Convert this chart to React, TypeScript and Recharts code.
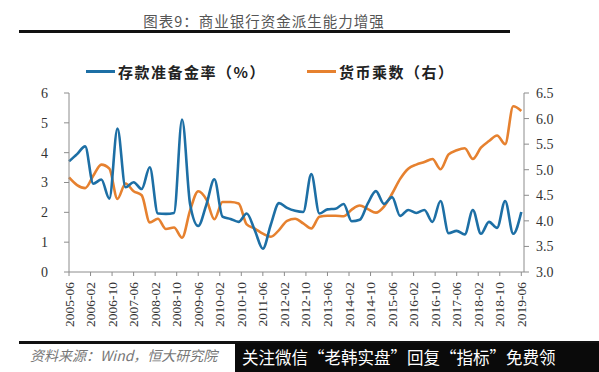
import React from 'react';
import { Line, LineChart, Legend, XAxis, YAxis } from 'recharts';

// months counted from 2005-06, one point per quarter
const months = [
  0, 3, 6, 9, 12, 15, 18, 21, 24, 27, 30, 33, 36, 39, 42, 45, 48, 51, 54, 57, 60, 63, 66, 69, 72, 75, 78, 81,
  84, 87, 90, 93, 96, 99, 102, 105, 108, 111, 114, 117, 120, 123, 126, 129, 132, 135, 138, 141, 144, 147, 150,
  153, 156, 159, 162, 165, 168,
];

const reserveRate = [
  3.71, 3.95, 4.21, 2.96, 3.1, 2.46, 4.81, 2.84, 3.01, 2.78, 3.51, 1.96, 1.95, 1.98, 5.11, 2.26, 1.54, 2.25,
  3.11, 1.86, 1.78, 1.68, 1.96, 1.4, 0.78, 1.6, 2.31, 2.15, 2.05, 2.01, 3.28, 1.96, 2.1, 2.12, 2.28, 1.7,
  1.75, 2.3, 2.71, 2.28, 2.51, 1.88, 2.08, 1.98, 2.08, 1.68, 2.38, 1.3, 1.38, 1.26, 2.08, 1.28, 1.68, 1.48,
  2.38, 1.28, 2.01,
];

const multiplier = [
  4.85, 4.7, 4.64, 4.88, 5.1, 5.02, 4.43, 4.73, 4.58, 4.5, 3.97, 4.04, 3.84, 3.87, 3.67, 4.21, 4.58, 4.42,
  4.03, 4.37, 4.37, 4.34, 3.93, 3.85, 3.75, 3.69, 3.82, 4.0, 4.04, 3.95, 3.85, 4.08, 4.1, 4.1, 4.09, 4.22,
  4.3, 4.23, 4.16, 4.28, 4.53, 4.82, 5.02, 5.1, 5.15, 5.21, 5.01, 5.3, 5.38, 5.42, 5.21, 5.43, 5.56, 5.67,
  5.5, 6.24, 6.15,
];

const xTicks = [0, 8, 16, 24, 32, 40, 48, 56, 64, 72, 80, 88, 96, 104, 112, 120, 128, 136, 144, 152, 160, 168];
const leftTicks = [0, 1, 2, 3, 4, 5, 6];
const rightTicks = [3, 3.5, 4, 4.5, 5, 5.5, 6, 6.5];

const data = months.map((m, i) => ({ m, rate: reserveRate[i], mult: multiplier[i] }));

const BLUE = '#1d6fa5';
const ORANGE = '#e6812f';
const AXIS = '#8c8c8c';
const serif = '"Liberation Serif", "DejaVu Serif", serif';
const cjk = '"Noto Sans CJK SC", sans-serif';

function monthLabel(m: number) {
  const total = 2005 * 12 + 5 + m;
  const y = Math.floor(total / 12);
  const mo = (total % 12) + 1;
  return `${y}-${String(mo).padStart(2, '0')}`;
}

function DateTick(props: any) {
  const { x, y, payload } = props;
  return (
    <text
      x={0}
      y={0}
      transform={`translate(${x + 4.5},${y + 4}) rotate(-90)`}
      textAnchor="end"
      fontSize={13.5}
      fontFamily={serif}
      fill="#333"
    >
      {monthLabel(payload.value)}
    </text>
  );
}

function LegendBox() {
  const item = (color: string, label: string, left: number) => (
    <div style={{ position: 'absolute', left, top: 0, display: 'flex', alignItems: 'center' }}>
      <span style={{ display: 'inline-block', width: 29, height: 3, background: color, marginRight: 3 }} />
      <span style={{ fontFamily: cjk, fontWeight: 700, fontSize: 15, color: '#222', letterSpacing: 1.5 }}>
        {label}
      </span>
    </div>
  );
  return (
    <div style={{ position: 'relative', width: 599, height: 20 }}>
      {item(BLUE, '存款准备金率（%）', 86)}
      {item(ORANGE, '货币乘数（右）', 307)}
    </div>
  );
}

export default function App() {
  return (
    <div style={{ position: 'absolute', left: 0, top: 0, width: 599, height: 372, background: '#fff', overflow: 'hidden' }}>
      <div
        style={{
          position: 'absolute',
          left: 0,
          width: 528,
          top: 12,
          textAlign: 'center',
          fontFamily: cjk,
          fontSize: 14.5,
          color: '#555',
          letterSpacing: 1,
          lineHeight: '18px',
        }}
      >
        图表9：商业银行资金派生能力增强
      </div>
      <div style={{ position: 'absolute', left: 19, top: 30, width: 491, height: 3, background: '#111' }} />

      <LineChart width={599} height={372} data={data} margin={{ top: 73, right: 0, bottom: 0, left: 0 }}>
        <Legend
          verticalAlign="top"
          content={() => <LegendBox />}
          wrapperStyle={{ top: 61, left: 0, width: 599 }}
        />
        <XAxis
          dataKey="m"
          type="number"
          domain={[0, 169]}
          ticks={xTicks}
          interval={0}
          height={100}
          stroke={AXIS}
          tickLine={{ stroke: AXIS }}
          tickSize={4}
          tick={<DateTick />}
        />
        <YAxis
          yAxisId="left"
          domain={[0, 6]}
          ticks={leftTicks}
          width={69}
          stroke={AXIS}
          tickSize={5}
          tickMargin={16}
          tick={{ fontSize: 14, fontFamily: serif, fill: '#333' }}
        />
        <YAxis
          yAxisId="right"
          orientation="right"
          domain={[3, 6.5]}
          ticks={rightTicks}
          width={75}
          stroke={AXIS}
          tickSize={5}
          tickMargin={7}
          tickFormatter={(v: number) => v.toFixed(1)}
          tick={{ fontSize: 14, fontFamily: serif, fill: '#333' }}
        />
        <Line
          yAxisId="right"
          type="monotone"
          dataKey="mult"
          stroke={ORANGE}
          strokeWidth={2.6}
          dot={false}
          isAnimationActive={false}
        />
        <Line
          yAxisId="left"
          type="monotone"
          dataKey="rate"
          stroke={BLUE}
          strokeWidth={2.6}
          dot={false}
          isAnimationActive={false}
        />
      </LineChart>

      <div style={{ position: 'absolute', left: 19, top: 341, width: 580, height: 3, background: '#111' }} />
      <div
        style={{
          position: 'absolute',
          left: 30,
          top: 346,
          fontFamily: cjk,
          fontStyle: 'italic',
          fontSize: 14,
          color: '#777',
          lineHeight: '18px',
        }}
      >
        资料来源：Wind，恒大研究院
      </div>
      <div
        style={{
          position: 'absolute',
          left: 235,
          top: 343,
          width: 364,
          height: 29,
          background: '#0a0a0a',
          color: '#fff',
          fontFamily: cjk,
          fontSize: 16.5,
          lineHeight: '29px',
          paddingLeft: 7,
          whiteSpace: 'nowrap',
        }}
      >
        关注微信“老韩实盘”回复“指标”免费领
      </div>
    </div>
  );
}
